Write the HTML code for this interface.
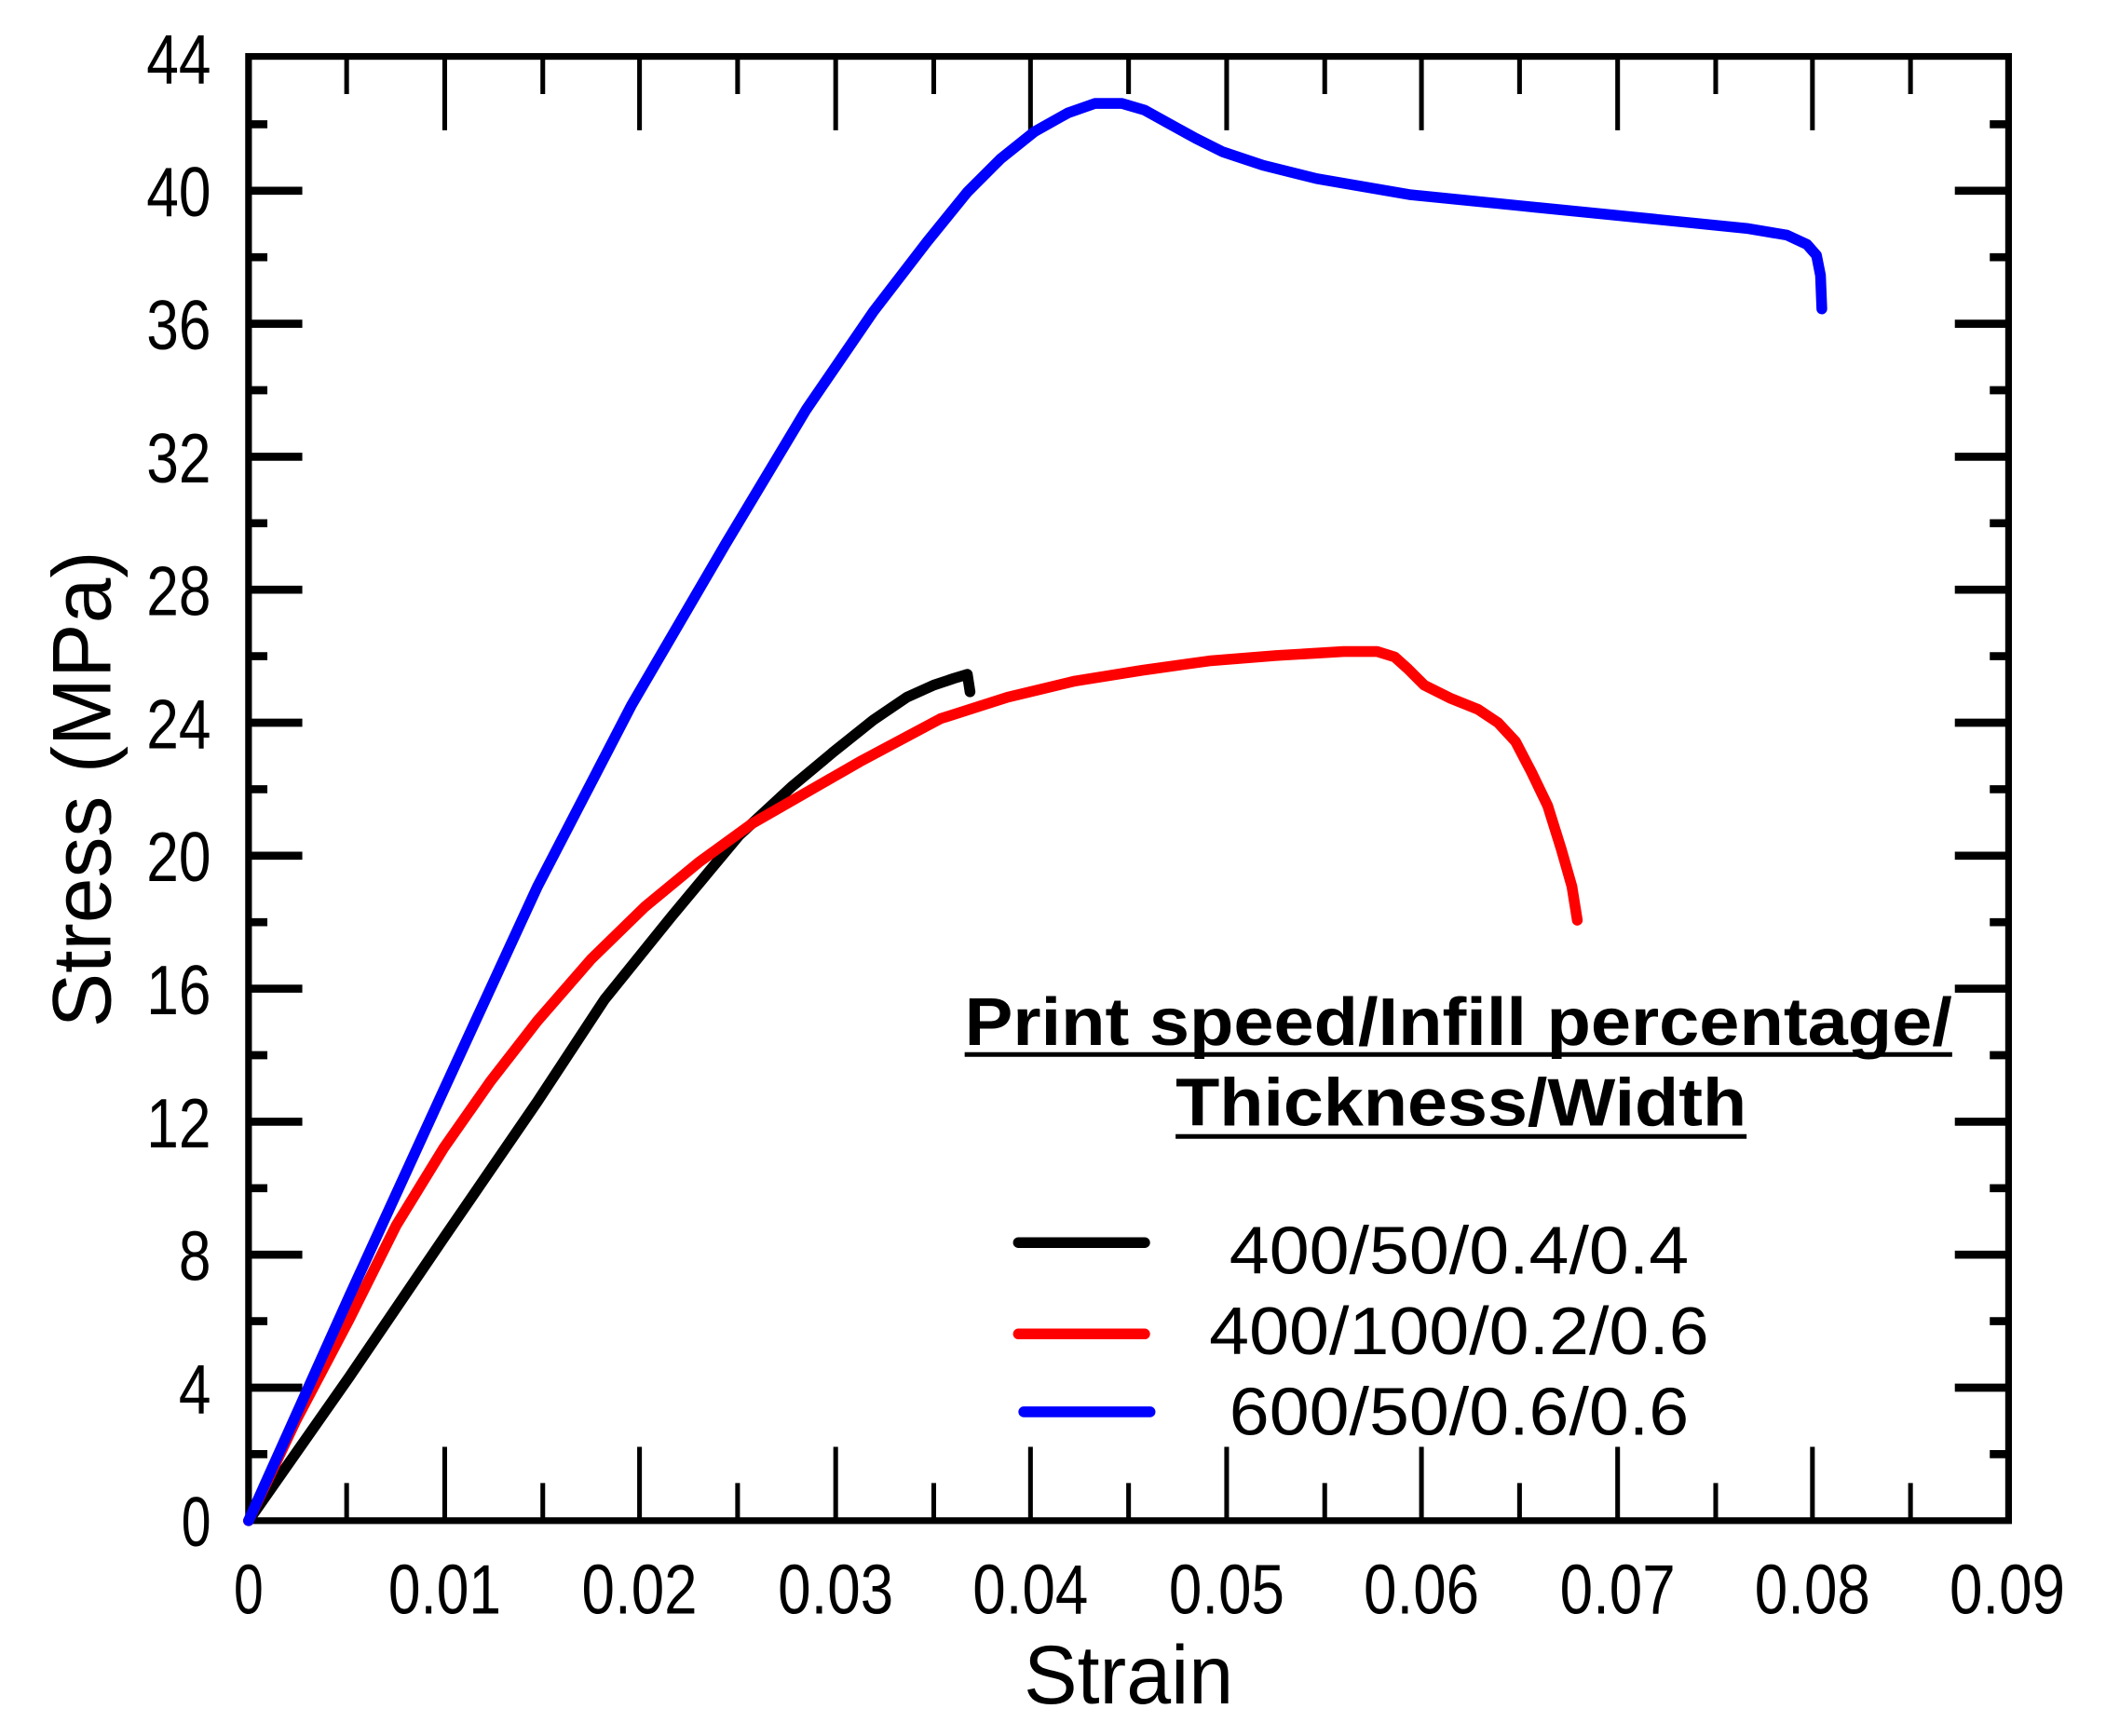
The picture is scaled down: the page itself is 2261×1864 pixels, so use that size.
<!DOCTYPE html>
<html><head><style>html,body{margin:0;padding:0;background:#fff}svg{display:block}</style></head>
<body>
<svg width="2261" height="1864" viewBox="0 0 1567.5 1292.3" preserveAspectRatio="none" xmlns="http://www.w3.org/2000/svg" font-family="Liberation Sans, Arial, sans-serif">
<rect width="1568" height="1293" fill="#fff"/>
<g stroke="#000" stroke-width="3.5">
<path d="M258,1132v-28M331,1132v-55M404,1132v-28M476,1132v-55M549,1132v-28M622,1132v-55M695,1132v-28M767,1132v-55M840,1132v-28M913,1132v-55M986,1132v-28M1058,1132v-55M1131,1132v-28M1204,1132v-55M1277,1132v-28M1349,1132v-55M1422,1132v-28"/>
<path d="M258,42v28M331,42v55M404,42v28M476,42v55M549,42v28M622,42v55M695,42v28M767,42v55M840,42v28M913,42v55M986,42v28M1058,42v55M1131,42v28M1204,42v55M1277,42v28M1349,42v55M1422,42v28"/>
</g>
<g stroke="#000" stroke-width="6">
<path d="M185,1082.5h14M185,1033h40M185,983.5h14M185,934h40M185,884.5h14M185,835h40M185,785.5h14M185,736h40M185,686.5h14M185,637h40M185,587.5h14M185,538h40M185,488.5h14M185,439h40M185,389.5h14M185,340h40M185,290.5h14M185,241h40M185,191.5h14M185,142h40M185,92.5h14"/>
<path d="M1495,1082.5h-14M1495,1033h-40M1495,983.5h-14M1495,934h-40M1495,884.5h-14M1495,835h-40M1495,785.5h-14M1495,736h-40M1495,686.5h-14M1495,637h-40M1495,587.5h-14M1495,538h-40M1495,488.5h-14M1495,439h-40M1495,389.5h-14M1495,340h-40M1495,290.5h-14M1495,241h-40M1495,191.5h-14M1495,142h-40M1495,92.5h-14"/>
</g>
<rect x="185" y="42" width="1310" height="1090" fill="none" stroke="#000" stroke-width="5"/>
<g fill="none" stroke-width="8" stroke-linejoin="round" stroke-linecap="round">
<path stroke="#000" d="M185,1132 L260,1025 L330,922 L400,820 L450,744 L500,682 L550,622 L590,585 L620,560 L650,536 L675,519 L695,510 L710,505 L720,502 L722,515"/>
<path stroke="#f00" d="M185,1132 L220,1058 L260,982 L295,912 L330,855 L365,805 L400,760 L440,714 L480,675 L520,642 L560,613 L600,590 L640,567 L700,535 L750,519 L800,507 L850,499 L900,492 L950,488 L1000,485 L1025,485 L1038,489 L1048,498 L1060,510 L1080,520 L1100,528 L1115,538 L1128,552 L1140,575 L1152,600 L1162,632 L1170,660 L1174,685"/>
<path stroke="#00f" d="M185,1132 L260,965 L330,812 L400,660 L470,525 L540,405 L600,305 L650,232 L690,180 L720,143 L745,118 L770,98 L795,84 L815,77 L835,77 L852,82 L870,92 L890,103 L910,113 L940,123 L980,133 L1050,145 L1130,153 L1200,160 L1260,166 L1300,170 L1330,175 L1345,182 L1352,190 L1355,205 L1356,230"/>
</g>
<g font-size="52" fill="#000" text-anchor="middle">
<text x="185" y="1201" textLength="22" lengthAdjust="spacingAndGlyphs">0</text>
<text x="331" y="1201" textLength="84" lengthAdjust="spacingAndGlyphs">0.01</text>
<text x="476" y="1201" textLength="86" lengthAdjust="spacingAndGlyphs">0.02</text>
<text x="622" y="1201" textLength="86" lengthAdjust="spacingAndGlyphs">0.03</text>
<text x="767" y="1201" textLength="86" lengthAdjust="spacingAndGlyphs">0.04</text>
<text x="913" y="1201" textLength="86" lengthAdjust="spacingAndGlyphs">0.05</text>
<text x="1058" y="1201" textLength="86" lengthAdjust="spacingAndGlyphs">0.06</text>
<text x="1204" y="1201" textLength="86" lengthAdjust="spacingAndGlyphs">0.07</text>
<text x="1349" y="1201" textLength="86" lengthAdjust="spacingAndGlyphs">0.08</text>
<text x="1494" y="1201" textLength="86" lengthAdjust="spacingAndGlyphs">0.09</text>
</g>
<g font-size="52" fill="#000" text-anchor="end">
<text x="157" y="1151" textLength="22" lengthAdjust="spacingAndGlyphs">0</text>
<text x="157" y="1052" textLength="24" lengthAdjust="spacingAndGlyphs">4</text>
<text x="157" y="953" textLength="24" lengthAdjust="spacingAndGlyphs">8</text>
<text x="157" y="854" textLength="48" lengthAdjust="spacingAndGlyphs">12</text>
<text x="157" y="755" textLength="48" lengthAdjust="spacingAndGlyphs">16</text>
<text x="157" y="656" textLength="48" lengthAdjust="spacingAndGlyphs">20</text>
<text x="157" y="557" textLength="48" lengthAdjust="spacingAndGlyphs">24</text>
<text x="157" y="458" textLength="48" lengthAdjust="spacingAndGlyphs">28</text>
<text x="157" y="359" textLength="48" lengthAdjust="spacingAndGlyphs">32</text>
<text x="157" y="260" textLength="48" lengthAdjust="spacingAndGlyphs">36</text>
<text x="157" y="161" textLength="48" lengthAdjust="spacingAndGlyphs">40</text>
<text x="157" y="62" textLength="48" lengthAdjust="spacingAndGlyphs">44</text>
</g>
<text x="762" y="1268" font-size="62" textLength="156" lengthAdjust="spacingAndGlyphs">Strain</text>
<text transform="translate(82,765) rotate(-90)" font-size="62" textLength="355" lengthAdjust="spacingAndGlyphs">Stress (MPa)</text>
<g font-size="50" font-weight="bold">
<text x="718" y="778" textLength="735" lengthAdjust="spacingAndGlyphs">Print speed/Infill percentage/</text>
<text x="875" y="838" textLength="425" lengthAdjust="spacingAndGlyphs">Thickness/Width</text>
</g>
<path d="M718,785H1453M875,846H1300" stroke="#000" stroke-width="3.5"/>
<g stroke-width="8" stroke-linecap="round">
<path d="M758,925h94" stroke="#000"/><path d="M758,993h94" stroke="#f00"/><path d="M762,1051h94" stroke="#00f"/>
</g>
<g font-size="50">
<text x="915" y="948" textLength="342" lengthAdjust="spacingAndGlyphs">400/50/0.4/0.4</text>
<text x="900" y="1008" textLength="372" lengthAdjust="spacingAndGlyphs">400/100/0.2/0.6</text>
<text x="915" y="1068" textLength="342" lengthAdjust="spacingAndGlyphs">600/50/0.6/0.6</text>
</g>
</svg>
</body></html>
